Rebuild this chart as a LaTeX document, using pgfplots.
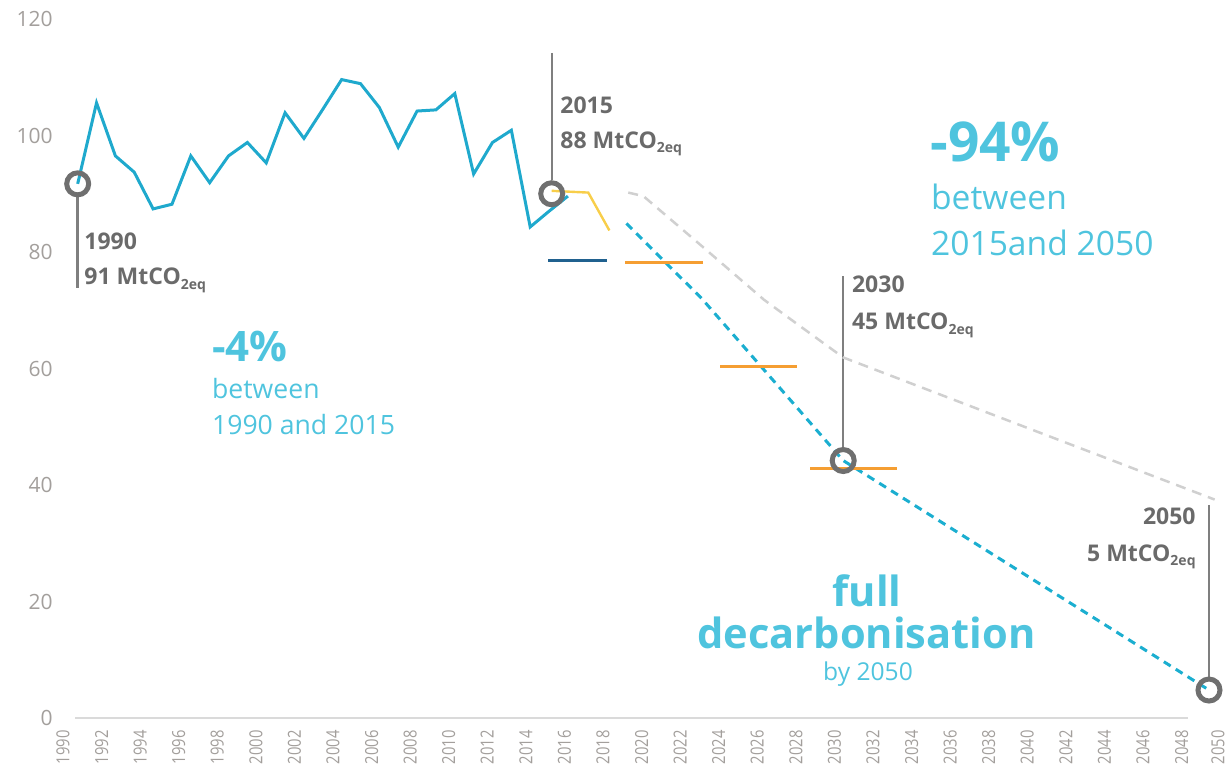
\documentclass[border=0pt]{standalone}
\usepackage{pgfplots}
\pgfplotsset{compat=1.18}
\usepackage{fontspec}
\setmainfont{Open Sans}
\newfontfamily\cond[FakeStretch=0.82]{Open Sans}
\definecolor{histblue}{HTML}{1FA9CD}
\definecolor{dashcyan}{HTML}{1BAED0}
\definecolor{txtcyan}{HTML}{4FC4DE}
\definecolor{yel}{HTML}{F8CE4A}
\definecolor{orng}{HTML}{F59E32}
\definecolor{dkblue}{HTML}{20618F}
\definecolor{dgrey}{HTML}{D0D0D0}
\definecolor{circgrey}{HTML}{6F6F6F}
\definecolor{vgrey}{HTML}{7F7F7F}
\definecolor{txtgrey}{HTML}{6A6A6A}
\definecolor{tickgrey}{HTML}{A39F9C}
\definecolor{axisgrey}{HTML}{DADADA}
\newcommand{\sub}[1]{\raisebox{-2.2pt}{\fontsize{7}{7}\selectfont #1}}
\newcommand{\ann}{\fontsize{11.5}{12}\selectfont\bfseries\color{txtgrey}}
\begin{document}
\begin{tikzpicture}
\useasboundingbox (0pt,0pt) rectangle (613.5pt,-385.5pt);
\begin{scope}[x=0.5pt,y=-0.5pt]
\draw[axisgrey, line width=1pt] (75,718) -- (1188,718);
\end{scope}
\begin{axis}[
  at={(31.3pt,-359pt)}, anchor=south west,
  width=578.85pt, height=349.5pt, scale only axis,
  xmin=1989.2, xmax=2050.6, ymin=0, ymax=120,
  clip=false,
  axis line style={draw=none},
  major tick length=0pt,
  ytick={0,20,40,60,80,100,120},
  /pgf/number format/assume math mode=true,
  yticklabel style={font=\fontsize{10.5}{12}\selectfont, text=tickgrey, inner sep=0pt, anchor=east, xshift=-4.8pt},
  xtick={1989.22,1991.27,1993.31,1995.36,1997.40,1999.45,2001.49,2003.54,2005.59,2007.63,2009.68,2011.72,2013.77,2015.81,2017.86,2019.91,2021.95,2024.00,2026.04,2028.09,2030.13,2032.18,2034.23,2036.27,2038.32,2040.36,2042.41,2044.45,2046.50,2048.55,2050.48},
  xticklabels={1990,1992,1994,1996,1998,2000,2002,2004,2006,2008,2010,2012,2014,2016,2018,2020,2022,2024,2026,2028,2030,2032,2034,2036,2038,2040,2042,2044,2046,2048,2050},
  xticklabel style={yshift=-6pt, rotate=90, anchor=east, inner sep=0pt, font=\cond\fontsize{9}{10}\selectfont, text=tickgrey},
]
% circles
\addplot[only marks, mark=o, mark size=5.5pt, mark options={line width=2.5pt, draw=circgrey}]
  coordinates {(1990,91.7) (2015.14,90.0) (2030.6,44.2) (2050,4.8)};
% vertical annotation lines
\addplot[vgrey, line width=1.2pt] coordinates {(1990,89.4) (1990,73.8)};
\addplot[vgrey, line width=1.2pt] coordinates {(2015.14,114.2) (2015.14,92.3)};
\addplot[vgrey, line width=1.2pt] coordinates {(2030.6,75.8) (2030.6,46.5)};
\addplot[vgrey, line width=1.2pt] coordinates {(2050,36.6) (2050,7.1)};
% grey dashed reference trajectory
\addplot[dgrey, line width=1.25pt, dash pattern=on 5pt off 3.5pt] coordinates {
  (2019.2,90.2) (2020,89.6) (2023,81.3) (2026.4,71.8) (2028.3,67.3) (2030.6,61.9) (2050.3,37.5)};
% cyan dashed decarbonisation pathway
\addplot[dashcyan, line width=1.5pt, dash pattern=on 4pt off 3pt] coordinates {
  (2019.1,84.9) (2023.1,72.0) (2030.6,44.2) (2050,4.8)};
% historical emissions
\addplot[histblue, line width=1.5pt] coordinates {
  (1990,91.7) (1991,105.6) (1992,96.5) (1993,93.7) (1994,87.4) (1995,88.2)
  (1996,96.5) (1997,91.9) (1998,96.5) (1999,98.8) (2000,95.3) (2001,103.9)
  (2002,99.5) (2003,104.5) (2004,109.6) (2005,108.9) (2006,104.8) (2007,98.0)
  (2008,104.2) (2009,104.4) (2010,107.2) (2011,93.4) (2012,98.8) (2013,100.9)
  (2014,84.3) (2015,87.0) (2016,89.6)};
% yellow projection
\addplot[yel, line width=1.2pt] coordinates {(2015.14,90.5) (2017.08,90.2) (2018.2,83.7)};
% dark blue and orange budget segments
\addplot[dkblue, line width=1.5pt] coordinates {(2014.96,78.6) (2018.06,78.6)};
\addplot[orng, line width=1.5pt] coordinates {(2019.03,78.2) (2023.18,78.2)};
\addplot[orng, line width=1.5pt] coordinates {(2024.07,60.3) (2028.15,60.3)};
\addplot[orng, line width=1.5pt] coordinates {(2028.84,42.9) (2033.44,42.9)};
\end{axis}
\begin{scope}[x=0.5pt,y=-0.5pt, every node/.style={inner sep=0pt}]
% grey annotations
\node[anchor=base west] at (84,249.7) {\ann 1990};
\node[anchor=base west] at (84,284.7) {\ann 91 MtCO\sub{2eq}};
\node[anchor=base west] at (560,113) {\ann 2015};
\node[anchor=base west] at (560,148) {\ann 88 MtCO\sub{2eq}};
\node[anchor=base west] at (851.7,292.3) {\ann 2030};
\node[anchor=base west] at (851.7,329.7) {\ann 45 MtCO\sub{2eq}};
\node[anchor=base east] at (1196,524.7) {\ann 2050};
\node[anchor=base east] at (1196,561.3) {\ann 5 MtCO\sub{2eq}};
% cyan texts
\node[anchor=base west, text=txtcyan] at (930,161.7) {\fontsize{27.5}{29}\selectfont\bfseries -94\%};
\node[anchor=base west, text=txtcyan] at (930.7,209.3) {\fontsize{16.8}{18}\selectfont between};
\node[anchor=base west, text=txtcyan] at (930.7,255) {\fontsize{16.8}{18}\selectfont 2015and 2050};
\node[anchor=base west, text=txtcyan] at (211.7,361.7) {\fontsize{21}{22}\selectfont\bfseries -4\%};
\node[anchor=base west, text=txtcyan] at (211.7,398.3) {\fontsize{13.3}{15}\selectfont between};
\node[anchor=base west, text=txtcyan] at (211.7,434) {\fontsize{13.3}{15}\selectfont 1990 and 2015};
\node[anchor=base, text=txtcyan] at (867,606) {\fontsize{20.8}{22}\selectfont\bfseries full};
\node[anchor=base, text=txtcyan] at (866.5,648) {\fontsize{20.8}{22}\selectfont\bfseries decarbonisation};
\node[anchor=base, text=txtcyan] at (868,680) {\fontsize{12.3}{14}\selectfont by 2050};
\end{scope}
\end{tikzpicture}
\end{document}
